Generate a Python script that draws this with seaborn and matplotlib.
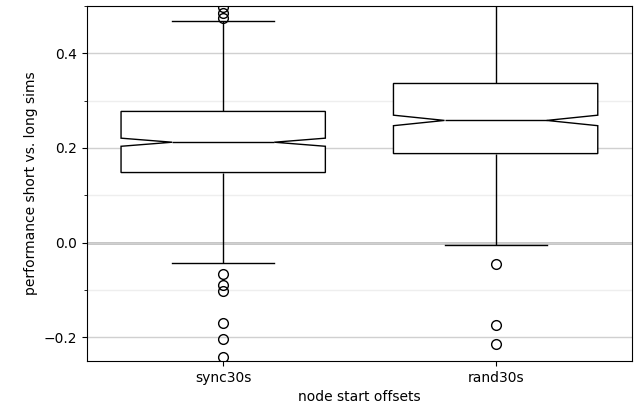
import numpy as np
import pandas as pd
import seaborn as sns
import matplotlib
matplotlib.use("Agg")
import matplotlib.pyplot as plt
from matplotlib.ticker import MultipleLocator

# categories on the x axis
offsets = ["sync30s", "rand30s"]

# sample values, with how often each one occurs
# (repeats stand in for the body of each distribution so quartiles / notches match)
sync_values = [-0.241, -0.203, -0.169, -0.103, -0.089, -0.066, -0.042,
               0.05, 0.148, 0.18, 0.212, 0.245, 0.277, 0.37, 0.468,
               0.474, 0.485, 0.497]
sync_counts = [1, 1, 1, 1, 1, 1, 1,
               100, 60, 80, 60, 80, 60, 109, 1,
               1, 1, 1]

rand_values = [-0.214, -0.174, -0.045, -0.004,
               0.09, 0.188, 0.22, 0.258, 0.30, 0.336, 0.42, 0.53]
rand_counts = [1, 1, 1, 1,
               80, 50, 60, 50, 60, 50, 85, 1]

# long form table for seaborn
df = pd.concat([
    pd.DataFrame({"offset": offsets[0], "perf": np.repeat(sync_values, sync_counts)}),
    pd.DataFrame({"offset": offsets[1], "perf": np.repeat(rand_values, rand_counts)}),
], ignore_index=True)

fig = plt.figure(figsize=(6.35, 4.15), dpi=100)
ax = fig.add_axes([0.137, 0.130, 0.858, 0.856])

sns.boxplot(data=df, x="offset", y="perf", order=offsets, notch=True,
            color="white", linecolor="black", linewidth=1, width=0.75,
            flierprops=dict(marker="o", markerfacecolor="none",
                            markeredgecolor="black", markersize=7),
            ax=ax)

ax.set_ylim(-0.25, 0.5)
ax.yaxis.set_major_locator(MultipleLocator(0.2))
ax.yaxis.set_minor_locator(MultipleLocator(0.1))
ax.set_axisbelow(True)
ax.grid(axis="y", which="major", color="#d0d0d0", lw=1)
ax.grid(axis="y", which="minor", color="#eeeeee", lw=1)
ax.axhline(0, color="#c0c0c0", lw=2, zorder=0.5)

ax.set_xlabel("node start offsets")
ax.set_ylabel("performance short vs. long sims")

fig.savefig("out.png", dpi=100)
